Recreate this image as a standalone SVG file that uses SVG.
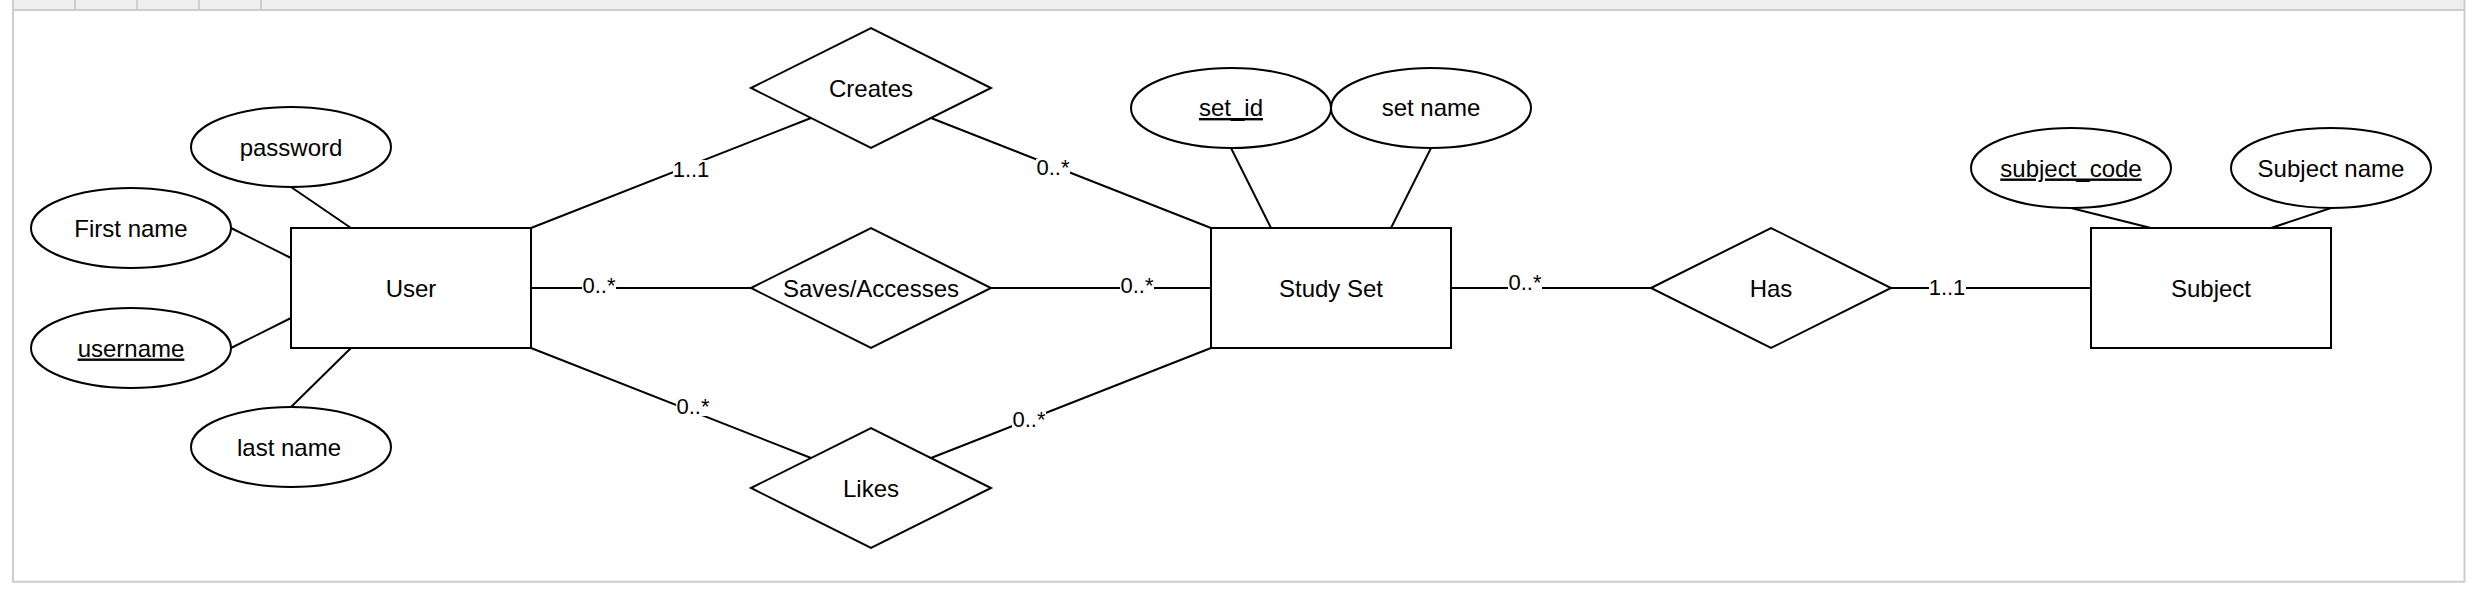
<svg xmlns="http://www.w3.org/2000/svg" width="2491" height="589" viewBox="0 0 2491 589">
<style>
.frame{fill:none;stroke:#cdcdcd;stroke-width:2}
.sep{stroke:#cdcdcd;stroke-width:2}
.shape{fill:#fff;stroke:#000;stroke-width:2}
.conn line{stroke:#000;stroke-width:2}
.t{font-family:"Liberation Sans",Arial,sans-serif;font-size:24px;fill:#000;text-anchor:middle}
.u{text-decoration:underline}
.lbl{font-family:"Liberation Sans",Arial,sans-serif;font-size:22px;fill:#000;text-anchor:middle}
.lbg{fill:#fff}
</style>
<rect width="2491" height="589" fill="#fff"/>
<g id="frame">
<rect x="13" y="0" width="2451.5" height="10" fill="#eeeeee"/>
<line class="sep" x1="13" y1="10" x2="2465" y2="10"/>
<line class="sep" x1="75" y1="0" x2="75" y2="10"/>
<line class="sep" x1="137" y1="0" x2="137" y2="10"/>
<line class="sep" x1="199" y1="0" x2="199" y2="10"/>
<line class="sep" x1="261" y1="0" x2="261" y2="10"/>
<polyline class="frame" points="13,0 13,581.7 2464.5,581.7 2464.5,0"/>
</g>
<g id="connectors" class="conn">
<line x1="291" y1="187" x2="351" y2="228"/>
<line x1="231" y1="228" x2="291" y2="258"/>
<line x1="231" y1="348" x2="291" y2="318"/>
<line x1="291" y1="407" x2="351" y2="348"/>
<line x1="531" y1="228" x2="811" y2="118"/>
<line x1="931" y1="118" x2="1211" y2="228"/>
<line x1="531" y1="288" x2="751" y2="288"/>
<line x1="991" y1="288" x2="1211" y2="288"/>
<line x1="531" y1="348" x2="811" y2="458"/>
<line x1="1211" y1="348" x2="931" y2="458"/>
<line x1="1231" y1="148" x2="1271" y2="228"/>
<line x1="1431" y1="148" x2="1391" y2="228"/>
<line x1="1451" y1="288" x2="1651" y2="288"/>
<line x1="1891" y1="288" x2="2091" y2="288"/>
<line x1="2071" y1="208" x2="2151" y2="228"/>
<line x1="2331" y1="208" x2="2271" y2="228"/>
<g id="edge-labels">
<rect class="lbg" x="673" y="160" width="37" height="18"/>
<text class="lbl" x="691" y="176.5">1..1</text>
<rect class="lbg" x="1036" y="159" width="34" height="18"/>
<text class="lbl" x="1053" y="175">0..*</text>
<rect class="lbg" x="582" y="277" width="34" height="18"/>
<text class="lbl" x="599" y="293.3">0..*</text>
<rect class="lbg" x="1120" y="277" width="34" height="18"/>
<text class="lbl" x="1137" y="293.3">0..*</text>
<rect class="lbg" x="676" y="398" width="34" height="18"/>
<text class="lbl" x="693" y="414.3">0..*</text>
<rect class="lbg" x="1012" y="410" width="34" height="18"/>
<text class="lbl" x="1029" y="426.7">0..*</text>
<rect class="lbg" x="1508" y="273" width="34" height="18"/>
<text class="lbl" x="1525" y="290">0..*</text>
<rect class="lbg" x="1929" y="278" width="37" height="18"/>
<text class="lbl" x="1947" y="295">1..1</text>
</g>
</g>
<g id="user"><rect class="shape" x="291" y="228" width="240" height="120"/><text class="t" x="411" y="296.5">User</text></g>
<g id="study-set"><rect class="shape" x="1211" y="228" width="240" height="120"/><text class="t" x="1331" y="296.5">Study Set</text></g>
<g id="subject"><rect class="shape" x="2091" y="228" width="240" height="120"/><text class="t" x="2211" y="296.5">Subject</text></g>
<g id="creates"><polygon class="shape" points="751,88 871,28 991,88 871,148"/><text class="t" x="871" y="96.5">Creates</text></g>
<g id="saves"><polygon class="shape" points="751,288 871,228 991,288 871,348"/><text class="t" x="871" y="296.5">Saves/Accesses</text></g>
<g id="likes"><polygon class="shape" points="751,488 871,428 991,488 871,548"/><text class="t" x="871" y="496.5">Likes</text></g>
<g id="has"><polygon class="shape" points="1651,288 1771,228 1891,288 1771,348"/><text class="t" x="1771" y="296.5">Has</text></g>
<g id="password"><ellipse class="shape" cx="291" cy="147" rx="100" ry="40"/><text class="t" x="291" y="155.5">password</text></g>
<g id="first-name"><ellipse class="shape" cx="131" cy="228" rx="100" ry="40"/><text class="t" x="131" y="236.5">First name</text></g>
<g id="username"><ellipse class="shape" cx="131" cy="348" rx="100" ry="40"/><text class="t u" x="131" y="356.5">username</text></g>
<g id="last-name"><ellipse class="shape" cx="291" cy="447" rx="100" ry="40"/><text class="t" x="289" y="455.5">last name</text></g>
<g id="set-id"><ellipse class="shape" cx="1231" cy="108" rx="100" ry="40"/><text class="t u" x="1231" y="116">set_id</text></g>
<g id="set-name"><ellipse class="shape" cx="1431" cy="108" rx="100" ry="40"/><text class="t" x="1431" y="116">set name</text></g>
<g id="subject-code"><ellipse class="shape" cx="2071" cy="168" rx="100" ry="40"/><text class="t u" x="2071" y="176.5">subject_code</text></g>
<g id="subject-name"><ellipse class="shape" cx="2331" cy="168" rx="100" ry="40"/><text class="t" x="2331" y="176.5">Subject name</text></g>
</svg>
